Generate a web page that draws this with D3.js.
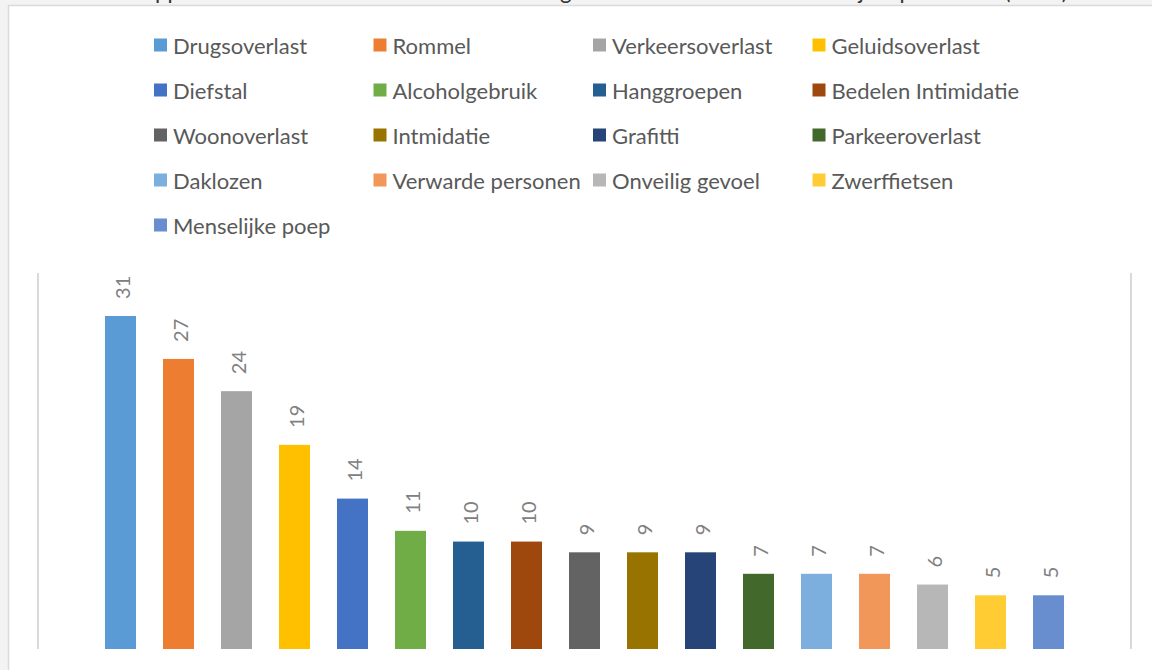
<!DOCTYPE html>
<html>
<head>
<meta charset="utf-8">
<script src="https://cdn.jsdelivr.net/npm/d3@7"></script>
<style>
  html, body { margin: 0; padding: 0; background: #f3f3f3; }
  svg { display: block; }
</style>
</head>
<body>
<svg id="chart" width="1152" height="670"></svg>
<script>
// ---- data ----
const titleText = "Gerapporteerde overlast door buurtbewoners genoemd in het onderzoek dit jaar per thema (n=64)";
const categories = ["Drugsoverlast", "Rommel", "Verkeersoverlast", "Geluidsoverlast",
  "Diefstal", "Alcoholgebruik", "Hanggroepen", "Bedelen Intimidatie",
  "Woonoverlast", "Intmidatie", "Grafitti", "Parkeeroverlast",
  "Daklozen", "Verwarde personen", "Onveilig gevoel", "Zwerffietsen",
  "Menselijke poep"];
const values = [31, 27, 24, 19, 14, 11, 10, 10, 9, 9, 9, 7, 7, 7, 6, 5, 5];
const colors = ["#5B9BD5", "#ED7D31", "#A5A5A5", "#FFC000", "#4472C4", "#70AD47",
  "#255E91", "#9E480E", "#636363", "#997300", "#264478", "#43682B",
  "#7CAFDD", "#F1975A", "#B7B7B7", "#FFCD33", "#698ED0"];
const yMax = 35;

// ---- layout ----
const svg = d3.select("#chart");
const W = 1152, H = 670;
const FONT = "Lato, 'Open Sans', sans-serif";

// page frame
svg.append("rect").attr("x", 0).attr("y", 0).attr("width", W).attr("height", H).attr("fill", "#f3f3f3");
svg.append("rect").attr("x", 8.5).attr("y", 5.5).attr("width", W).attr("height", H)
  .attr("fill", "#ffffff").attr("stroke", "#dadada").attr("stroke-width", 1.5);

// title (mostly cut off at the top of the picture)
const title = svg.append("text")
  .attr("x", 0).attr("y", -1)
  .attr("font-family", FONT).attr("font-size", 20)
  .attr("fill", "#333333")
  .text(titleText);
(function fitTitle() {
  const n = titleText.length;
  const node = title.node();
  const p0 = node.getStartPositionOfChar(4).x;
  const pe = node.getEndPositionOfChar(n - 1).x;
  const s = (1068 - 155) / (pe - p0);
  title.attr("font-size", 20 * s);
  const p0b = node.getStartPositionOfChar(4).x;
  title.attr("x", 155 - p0b);
})();

// scales
const x = d3.scaleBand()
  .domain(categories)
  .range([91.5, 1077.5])
  .paddingInner(27 / 58)
  .paddingOuter(27 / 116);
const y = d3.scaleLinear().domain([0, yMax]).range([649, 273]);

// vertical frame lines of the plot area
const plotLines = [38, 1131];
svg.append("g").selectAll("line").data(plotLines).join("line")
  .attr("x1", d => d).attr("x2", d => d)
  .attr("y1", y(yMax)).attr("y2", y(0))
  .attr("stroke", "#d9d9d9").attr("stroke-width", 2);

// bars
svg.append("g").selectAll("rect").data(values).join("rect")
  .attr("x", (d, i) => x(categories[i]))
  .attr("y", d => y(d))
  .attr("width", x.bandwidth())
  .attr("height", d => y(0) - y(d))
  .attr("fill", (d, i) => colors[i]);

// data labels (rotated)
svg.append("g").selectAll("text").data(values).join("text")
  .attr("transform", (d, i) => `translate(${x(categories[i]) + x.bandwidth() / 2 + 1},${y(d) - 17}) rotate(-90)`)
  .attr("text-anchor", "start")
  .attr("dominant-baseline", "central")
  .attr("font-family", FONT).attr("font-size", 20)
  .attr("fill", "#808080")
  .text(d => d);

// legend
const legend = svg.append("g");
const colX = c => 154 + 219.5 * c;
const rowY = r => 45 + 45 * r;
const items = legend.selectAll("g").data(categories).join("g")
  .attr("transform", (d, i) => `translate(${colX(i % 4)},${rowY(Math.floor(i / 4))})`);
items.append("rect").attr("x", 0).attr("y", -6.5).attr("width", 13).attr("height", 13)
  .attr("fill", (d, i) => colors[i]);
items.append("text").attr("x", 19).attr("y", 0)
  .attr("dominant-baseline", "central")
  .attr("font-family", FONT).attr("font-size", 22)
  .attr("fill", "#595959")
  .text(d => d);
</script>
</body>
</html>
